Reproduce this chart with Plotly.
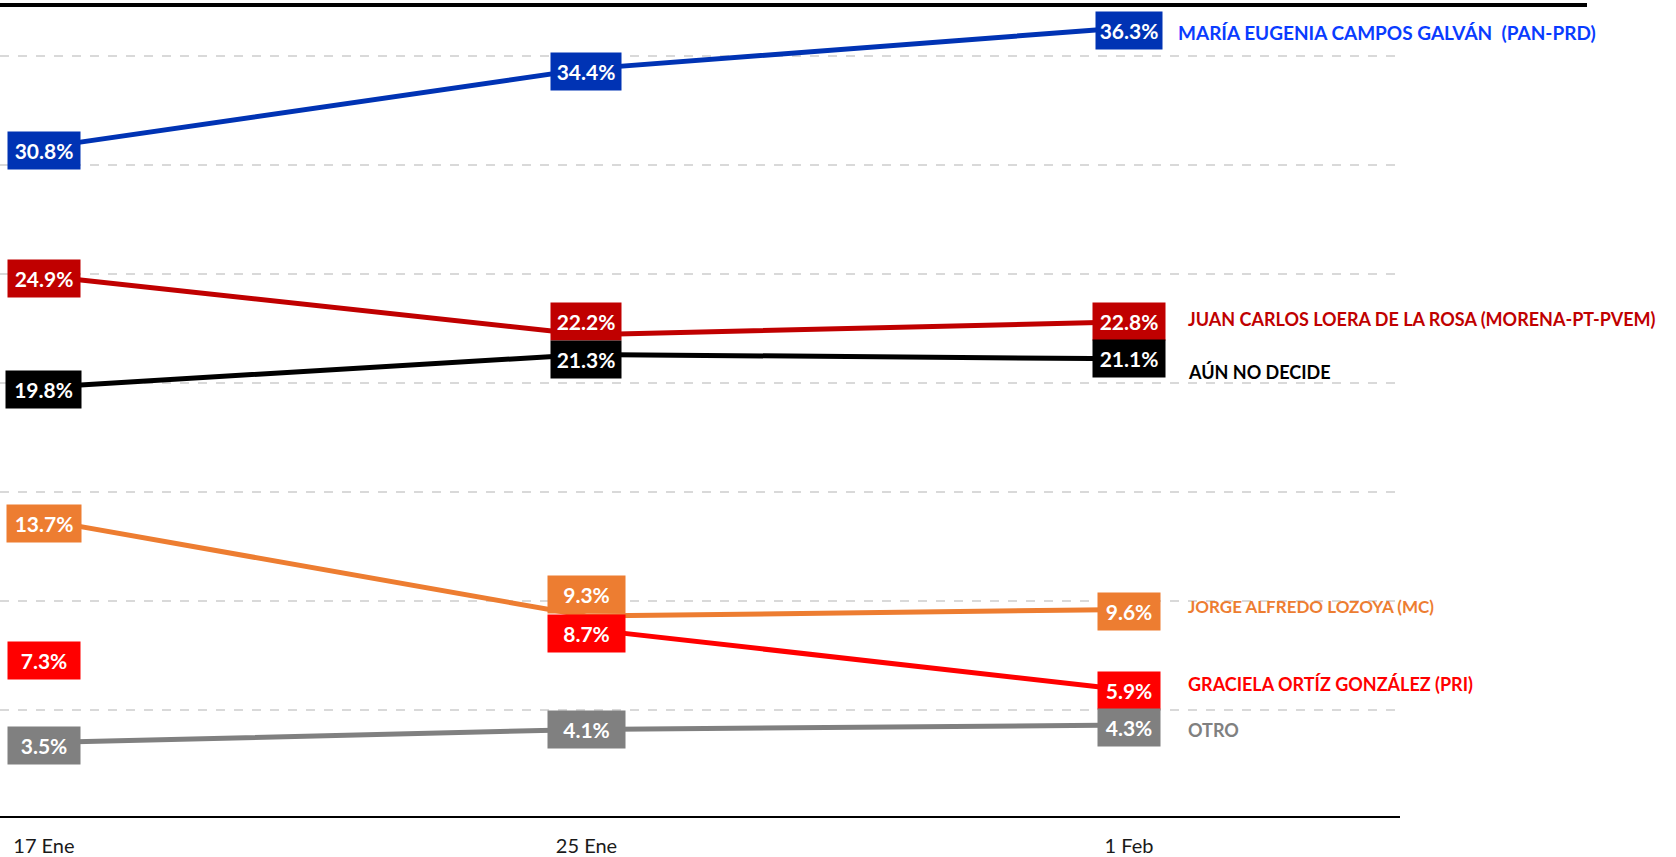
import plotly.graph_objects as go

# ---- data ----
fechas = ["17 Ene", "25 Ene", "1 Feb"]
campos = [30.8, 34.4, 36.3]
loera = [24.9, 22.2, 22.8]
no_decide = [19.8, 21.3, 21.1]
lozoya = [13.7, 9.3, 9.6]
ortiz = [7.3, 8.7, 5.9]
otro = [3.5, 4.1, 4.3]

nombres = [
    "MARÍA EUGENIA CAMPOS GALVÁN  (PAN-PRD)",
    "JUAN CARLOS LOERA DE LA ROSA (MORENA-PT-PVEM)",
    "AÚN NO DECIDE",
    "JORGE ALFREDO LOZOYA (MC)",
    "GRACIELA ORTÍZ GONZÁLEZ (PRI)",
    "OTRO",
]

# ---- styles ----
series = [
    dict(vals=campos, line="#0033B4", box="#0033B4", txt="#0A3CFF", name_dy=-5, name_dx=47, name_size=19,
         box_dy=[-3, -3, -3], box_w=[72, 70, 66], line_from=0),
    dict(vals=loera, line="#C00000", box="#C00000", txt="#C00000", name_dy=3, name_dx=57, name_size=18,
         box_dy=[-3, 13, 0], box_w=[72, 70, 72], line_from=0),
    dict(vals=no_decide, line="#000000", box="#000000", txt="#000000", name_dy=-13, name_dx=57, name_size=18,
         box_dy=[-2, -5, 0], box_w=[75, 70, 72], line_from=0),
    dict(vals=lozoya, line="#ED7D31", box="#ED7D31", txt="#ED7D31", name_dy=3, name_dx=57, name_size=17,
         box_dy=[-3, 22, -2], box_w=[74, 77, 62], line_from=0),
    dict(vals=ortiz, line="#FF0000", box="#FF0000", txt="#FF0000", name_dy=6, name_dx=57, name_size=18,
         box_dy=[-1, -4, 0], box_w=[72, 77, 62], line_from=1),
    dict(vals=otro, line="#808080", box="#808080", txt="#808080", name_dy=-5, name_dx=57, name_size=18,
         box_dy=[-3, 0, -2], box_w=[72, 77, 62], line_from=0),
]

FONT = "Lato, 'Open Sans', sans-serif"
xs = list(range(len(fechas)))

fig = go.Figure()
annotations = []
for s, nombre in zip(series, nombres):
    ly = [v if i >= s["line_from"] else None for i, v in enumerate(s["vals"])]
    fig.add_trace(go.Scatter(x=xs, y=ly, mode="lines",
                             line=dict(color=s["line"], width=5),
                             hoverinfo="skip", showlegend=False))
    for i, v in enumerate(s["vals"]):
        annotations.append(dict(
            x=xs[i], y=v, xref="x", yref="y", text=f"{v:.1f}%", showarrow=False,
            bgcolor=s["box"], font=dict(family=FONT, size=21, color="white", weight="bold"),
            width=s["box_w"][i], height=37, borderpad=0, yshift=s["box_dy"][i],
            align="center", valign="middle"))
    annotations.append(dict(
        x=xs[-1], y=s["vals"][-1], xref="x", yref="y", text=nombre, showarrow=False,
        xanchor="left", yanchor="middle", xshift=s["name_dx"], yshift=s["name_dy"],
        font=dict(family=FONT, size=s["name_size"], color=s["txt"], weight="bold")))

fig.update_layout(
    width=1676, height=857,
    margin=dict(l=0, r=276, t=5, b=41),
    plot_bgcolor="white", paper_bgcolor="white",
    showlegend=False,
    annotations=annotations,
    shapes=[dict(type="line", xref="paper", yref="paper", x0=0, x1=1587 / 1400,
                 y0=1, y1=1, line=dict(color="black", width=4))],
)
fig.update_xaxes(
    range=[-0.081, 2.4995], tickvals=xs, ticktext=fechas,
    showgrid=False, zeroline=False, showline=True, linecolor="black", linewidth=2,
    ticks="", ticklabelstandoff=11,
    tickfont=dict(family=FONT, size=20, color="#1a1a1a"), fixedrange=True,
)
fig.update_yaxes(
    range=[0.128, 37.33], tickvals=[5, 10, 15, 20, 25, 30, 35],
    showticklabels=False, showgrid=True, gridcolor="#D9D9D9", gridwidth=1.5,
    griddash="dash", zeroline=False, showline=False, fixedrange=True,
)

fig.write_html("out.html", config={"displayModeBar": False},
               post_script="document.body.style.margin='0';document.body.style.overflow='hidden';")
